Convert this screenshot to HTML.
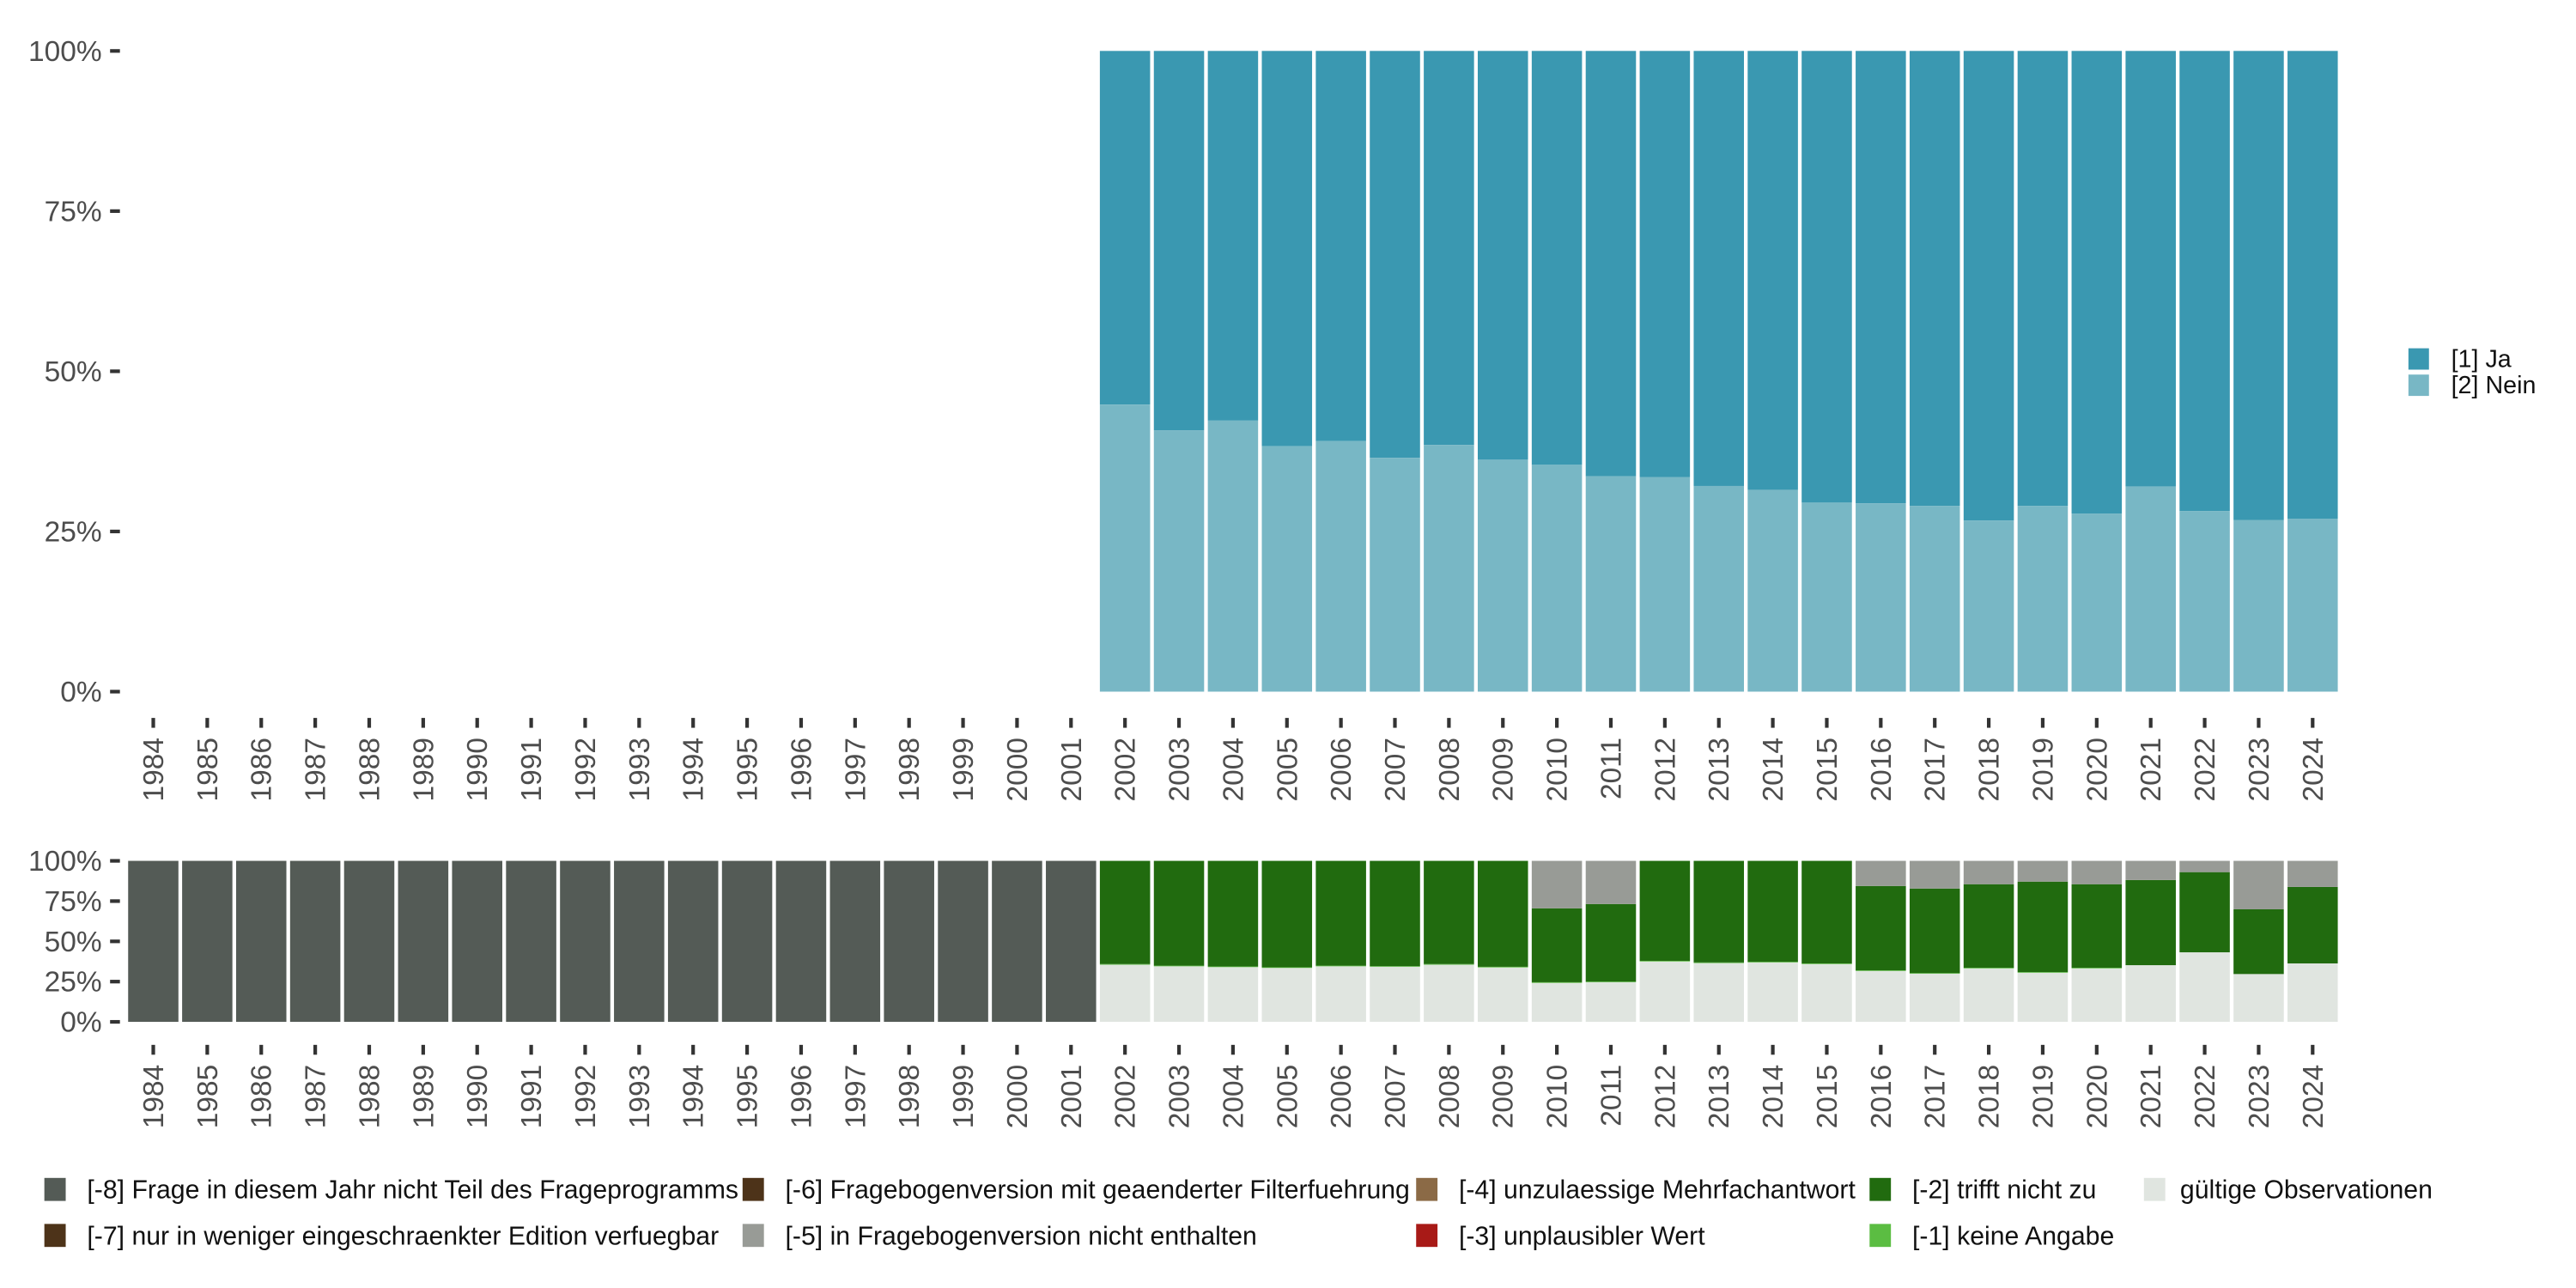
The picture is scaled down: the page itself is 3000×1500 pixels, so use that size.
<!DOCTYPE html>
<html><head><meta charset="utf-8"><style>
html,body{margin:0;padding:0;background:#fff}
svg{display:block;font-family:"Liberation Sans",sans-serif}
</style></head><body>
<svg id="chart" width="3000" height="1500" viewBox="0 0 1568 784" preserveAspectRatio="none" xmlns="http://www.w3.org/2000/svg"></svg>
<script>
const years = [];
for (let y = 1984; y <= 2024; y++) years.push(String(y));
// top panel: share of [2] Nein for 2002-2024 (percent); Ja = remainder
const topYears = ["2002","2003","2004","2005","2006","2007","2008","2009","2010","2011","2012","2013","2014","2015","2016","2017","2018","2019","2020","2021","2022","2023","2024"];
const neinShare = [44.8,40.8,42.3,38.3,39.1,36.5,38.5,36.2,35.4,33.6,33.5,32.1,31.5,29.5,29.4,29.0,26.7,29.0,27.8,32.0,28.2,26.8,27.0];
// bottom panel (percent), per year 1984-2024
const missing8 = [100,100,100,100,100,100,100,100,100,100,100,100,100,100,100,100,100,100,0,0,0,0,0,0,0,0,0,0,0,0,0,0,0,0,0,0,0,0,0,0,0];
const valid = [0,0,0,0,0,0,0,0,0,0,0,0,0,0,0,0,0,0,35.5,34.5,34,33.5,34.5,34.2,35.5,33.8,24.2,24.6,37.5,36.5,36.9,35.9,31.6,29.9,33.2,30.5,33.2,35.2,43.2,29.7,36.3];
const keineAngabe = [0,0,0,0,0,0,0,0,0,0,0,0,0,0,0,0,0,0,0.4,0.4,0.4,0.4,0.4,0.4,0.4,0.4,0.4,0.4,0.4,0.4,0.4,0.4,0.4,0.4,0.4,0.4,0.4,0,0,0,0];
const trifftNicht = [0,0,0,0,0,0,0,0,0,0,0,0,0,0,0,0,0,0,64.1,65.1,65.6,66.1,65.1,65.4,64.1,65.8,45.9,48.2,62.1,63.1,62.7,63.7,52.4,52.5,51.9,56.2,51.9,52.9,49.8,40.2,47.5];
const nichtEnthalten = [0,0,0,0,0,0,0,0,0,0,0,0,0,0,0,0,0,0,0,0,0,0,0,0,0,0,29.5,26.8,0,0,0,0,15.6,17.2,14.5,12.9,14.5,11.9,7.0,30.1,16.2];
const yTicks = [0,25,50,75,100];
const yTickLabels = ["0%","25%","50%","75%","100%"];

const svg = document.getElementById('chart');
const NS = 'http://www.w3.org/2000/svg';
function mk(tag, attrs, parent){const e=document.createElementNS(NS,tag);for(const k in attrs)e.setAttribute(k,attrs[k]);(parent||svg).appendChild(e);return e;}
const step = 32.86, bw = 30.6, x0 = 93.3;
function xc(i){return x0 + i*step;}
const topY = v => 421 - v/100*390;
const botY = v => 622 - v/100*98;

function axes(yf, tickTop, name){
  const g = mk('g',{});
  
  
  yTicks.forEach((t,i)=>{
    mk('line',{x1:67,x2:73,y1:yf(t),y2:yf(t),stroke:'#333','stroke-width':2.2},g);
    const tx = mk('text',{x:62,y:yf(t)+6,'text-anchor':'end','font-size':17.5,fill:'#4d4d4d'},g);
    tx.textContent = yTickLabels[i];
  });
  const gx = mk('g',{});
  
  
  years.forEach((yr,i)=>{
    mk('line',{x1:xc(i),x2:xc(i),y1:tickTop,y2:tickTop+6,stroke:'#333','stroke-width':2.2},gx);
    const tx = mk('text',{x:0,y:0,'text-anchor':'end','font-size':17.5,fill:'#4d4d4d',transform:`translate(${xc(i)+6},${tickTop+12}) rotate(-90)`},gx);
    tx.textContent = yr;
  });
}
// top bars
topYears.forEach((yr,j)=>{
  const i = years.indexOf(yr);
  const n = neinShare[j];
  const r1 = mk('rect',{x:xc(i)-bw/2,y:topY(100),width:bw,height:topY(n)-topY(100),fill:'#3a98b1'});
  
  
  const r2 = mk('rect',{x:xc(i)-bw/2,y:topY(n),width:bw,height:topY(0)-topY(n),fill:'#78b7c5'});
  
  
});
axes(topY, 437, 'top');
// bottom bars (stack from bottom)
const stack = [[valid,'#e0e5e0','valid'],[keineAngabe,'#5bbd42','keine-angabe'],[trifftNicht,'#216b0f','trifft-nicht-zu'],[nichtEnthalten,'#989b96','nicht-enthalten'],[missing8,'#545b56','nicht-teil']];
years.forEach((yr,i)=>{
  let cum = 0;
  stack.forEach(([arr,col,nm])=>{
    const v = arr[i]; if(!v) return;
    const r = mk('rect',{x:xc(i)-bw/2,y:botY(cum+v),width:bw,height:botY(cum)-botY(cum+v),fill:col});
    
    
    cum += v;
  });
});
axes(botY, 636, 'bottom');
// right legend
const lg = mk('g',{});


[['[1] Ja','#3a98b1',212],['[2] Nein','#78b7c5',228]].forEach(([t,c,y])=>{
  mk('rect',{x:1466,y:y,width:12.5,height:13,fill:c},lg);
  const tx = mk('text',{x:1492,y:y+11.5,'font-size':15,fill:'#111'},lg);
  tx.textContent=t;
});
// bottom legend
const bl = mk('g',{});


const items = [
 ['[-8] Frage in diesem Jahr nicht Teil des Frageprogramms','#545b56',27,717],
 ['[-7] nur in weniger eingeschraenkter Edition verfuegbar','#4d3319',27,745],
 ['[-6] Fragebogenversion mit geaenderter Filterfuehrung','#4d3319',452,717],
 ['[-5] in Fragebogenversion nicht enthalten','#989b96',452,745],
 ['[-4] unzulaessige Mehrfachantwort','#8b6a46',862,717],
 ['[-3] unplausibler Wert','#a81a17',862,745],
 ['[-2] trifft nicht zu','#216b0f',1138,717],
 ['[-1] keine Angabe','#5bbd42',1138,745],
 ['gültige Observationen','#e0e5e0',1305,717]];
items.forEach(([t,c,x,y])=>{
  mk('rect',{x:x,y:y,width:13,height:14,fill:c},bl);
  const tx = mk('text',{x:x+(x===1305?22:26),y:y+12.5,'font-size':15.8,fill:'#111'},bl);
  tx.textContent=t;
});
</script>
</body></html>
